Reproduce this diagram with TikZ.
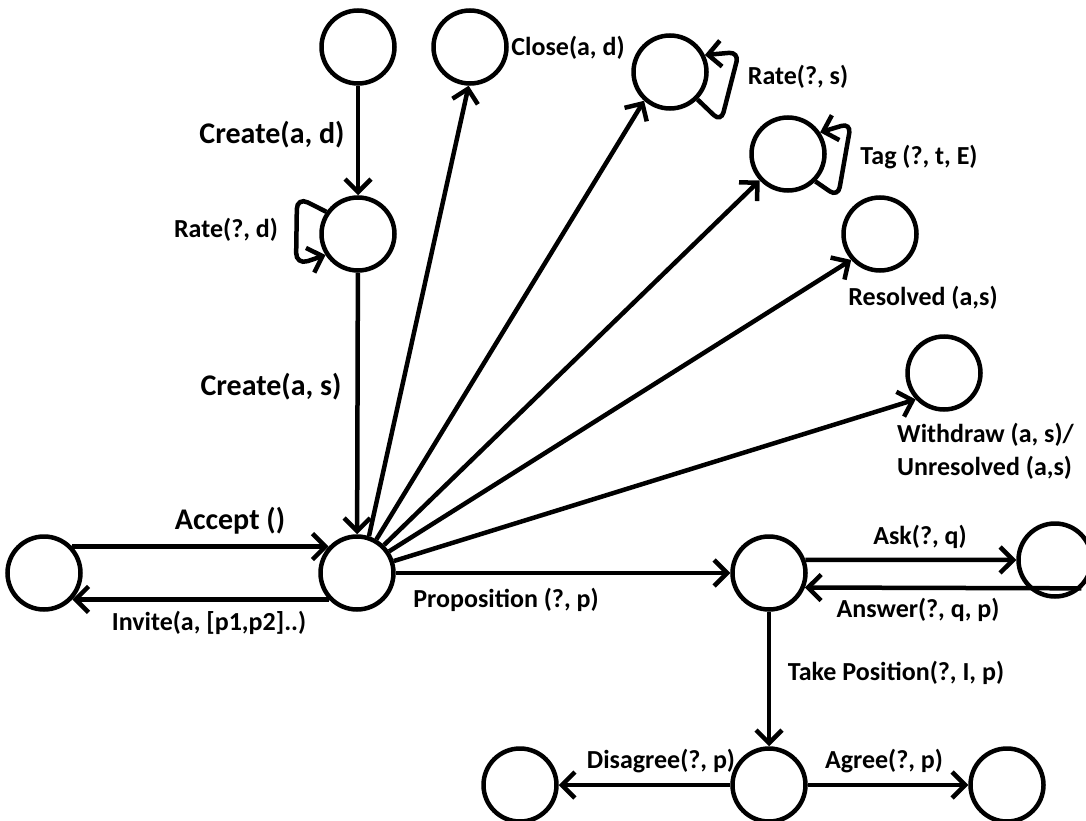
\documentclass[tikz,border=0pt]{standalone}
\usepackage{fontspec}
\setmainfont{Carlito}
\usetikzlibrary{arrows.meta}
\begin{document}
\begin{tikzpicture}[x=1pt,y=-1pt,
  state/.style={circle,draw,line width=4.5pt,minimum size=73pt,inner sep=0pt},
  arr/.style={line width=4.5pt,-{Straight Barb[length=13pt,width=26pt]}},
  lbl/.style={font=\bfseries\fontsize{26}{33}\selectfont,inner sep=0pt},
  biglbl/.style={font=\bfseries\fontsize{30}{36}\selectfont,inner sep=0pt}]
\useasboundingbox (0,0) rectangle (1086,821);
% nodes
\node[state] (top) at (358,47) {};
\node[state] (close) at (470,47) {};
\node[state] (rs) at (670,72) {};
\node[state] (tag) at (788,154) {};
\node[state] (res) at (880,234) {};
\node[state] (wd) at (944,373) {};
\node[state] (rd) at (358,234) {};
\node[state] (left) at (44,573) {};
\node[state] (c) at (357,573) {};
\node[state] (prop) at (769,573) {};
\node[state] (ask) at (1055,560) {};
\node[state] (take) at (769,785) {};
\node[state] (dis) at (520,785) {};
\node[state] (agr) at (1007,785) {};
% connectors
\draw[arr] (top) -- (rd);
\draw[arr] (rd) -- (c);
\draw[arr,rounded corners=12pt] (rd.145) -- (297,197) -- (296,265) -- (rd.213);
\draw[arr] (c.72) -- (close.268);
\draw[arr] (c.60) -- (rs.228);
\draw[arr,rounded corners=10pt] (rs.-45) -- (721,122) -- (739,52) -- (rs.26);
\draw[arr] (c.46) -- (tag.223);
\draw[arr,rounded corners=10pt] (tag.-45) -- (838,197) -- (851,123) -- (tag.34);
\draw[arr] (c.34) -- (res.222);
\draw[arr] (c.18) -- (wd.223);
\draw[arr] (left.43) -- (c.137);
\draw[arr] (c.223) -- (left.-43);
\draw[arr] (c) -- (prop);
\draw[arr] (prop.20) -- (ask.west);
\draw[arr] (ask.-47) -- (prop.-22);
\draw[arr] (prop) -- (take);
\draw[arr] (take) -- (dis);
\draw[arr] (take) -- (agr);
% labels
\node[biglbl] (l1) at (272,135) {Create(a, d)};
\node[biglbl] (l2) at (271,387) {Create(a, s)};
\node[biglbl] (l3) at (230,521) {Accept ()};
\node[lbl] (l4) at (226,230) {Rate(?, d)};
\node[lbl] (l5) at (568,48) {Close(a, d)};
\node[lbl] (l6) at (798,77) {Rate(?, s)};
\node[lbl] (l7) at (919,157) {Tag (?, t, E)};
\node[lbl] (l8) at (923,298) {Resolved (a,s)};
\node[lbl,align=left,anchor=north west] (l9) at (897,423) {Withdraw (a, s)/\\Unresolved (a,s)};
\node[lbl] (l10) at (209,623) {Invite(a, [p1,p2]..)};
\node[lbl] (l11) at (506,600) {Proposition (?, p)};
\node[lbl] (l12) at (920,537) {Ask(?, q)};
\node[lbl] (l13) at (918,610) {Answer(?, q, p)};
\node[lbl] (l14) at (896,673) {Take Position(?, I, p)};
\node[lbl] (l15) at (661,761) {Disagree(?, p)};
\node[lbl] (l16) at (884,761) {Agree(?, p)};
\end{tikzpicture}
\end{document}
